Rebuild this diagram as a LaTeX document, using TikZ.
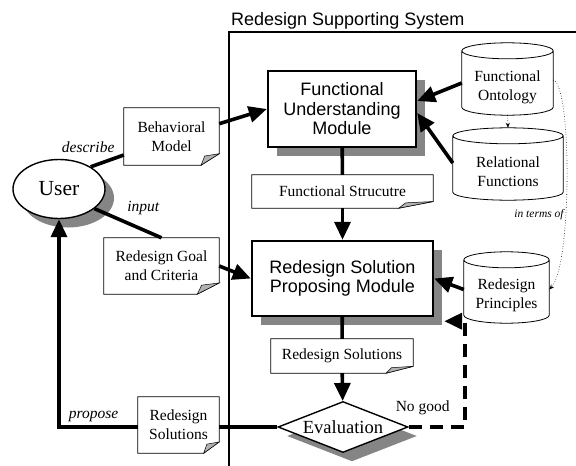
\documentclass[tikz,border=0pt]{standalone}
\usepackage{fontspec}
\setmainfont{Liberation Serif}
\setsansfont{Liberation Sans}
\usetikzlibrary{arrows.meta,shapes.geometric,shadows,calc}

\newcommand{\docsize}{\fontsize{15.5}{19}\selectfont}
\newcommand{\modsize}{\sffamily\fontsize{18}{19.5}\selectfont}

\begin{document}
\begin{tikzpicture}[x=1pt, y=-1pt,
  boxshadow/.style={drop shadow={shadow xshift=9pt, shadow yshift=-9pt, fill=black!48, opacity=1}},
  module/.style={draw, line width=2.4pt, fill=white, font=\modsize, align=center, inner sep=0pt, boxshadow},
  doc/.style={fill=white, font=\docsize, align=center, inner sep=0pt},
  store/.style={font=\docsize, align=center, inner sep=0pt},
  flow/.style={line width=3.6pt},
  bigtip/.style={-{Stealth[length=18pt,width=16pt,inset=0pt]}},
  note/.style={font=\docsize\itshape, inner sep=1pt}]

  \useasboundingbox (0,0) rectangle (576,466);
  \node[anchor=base west, font=\modsize, inner sep=0pt] (title) at (231,25) {Redesign Supporting System};
  \draw[line width=1.2pt] (229,466) |- (576,32);

  \node[module, minimum width=148pt, minimum height=76pt] (fum) at (342,109) {Functional\\Understanding\\Module};
  \node[module, minimum width=181pt, minimum height=75pt] (rspm) at (342.5,278.5) {Redesign Solution\\Proposing Module};
  \node[ellipse, draw, line width=1.4pt, fill=white, minimum width=92pt, minimum height=59pt, inner sep=0pt,
    font=\fontsize{21.5}{24}\selectfont, boxshadow] (user) at (59,189) {User};
  \node[diamond, draw, line width=1.4pt, fill=white, aspect=2.55, minimum width=130pt, minimum height=51pt,
    inner sep=0pt, font=\fontsize{18.5}{20}\selectfont, boxshadow] (eval) at (343,427) {Evaluation};

  \node[doc, minimum width=95pt, minimum height=57pt] (bmodel) at (171.5,136.5) {Behavioral\\Model};
  \node[doc, minimum width=115pt, minimum height=56pt] (goal) at (161.5,266) {Redesign Goal\\and Criteria};
  \node[doc, minimum width=181pt, minimum height=33pt] (fstruct) at (342.5,191.5) {Functional Strucutre};
  \node[doc, minimum width=142pt, minimum height=34pt] (rsolc) at (342,356) {Redesign Solutions};
  \node[doc, minimum width=81pt, minimum height=56pt] (rsoll) at (178.5,425) {Redesign\\Solutions};

  \node[store, minimum width=91pt, minimum height=56pt] (fonto) at (507.5,87) {Functional\\Ontology};
  \node[store, minimum width=110pt, minimum height=56pt] (rfunc) at (508,172) {Relational\\Functions};
  \node[store, minimum width=85pt, minimum height=55pt] (rprin) at (506.5,295.5) {Redesign\\Principles};
  \node[inner sep=0pt, font=\fontsize{11.5}{13}\selectfont\itshape] (terms) at (539,215) {in terms of};

  \foreach \d in {bmodel,goal,fstruct,rsolc,rsoll} {
    \draw[line width=0.7pt] let \p1=(\d.south east), \p2=(\d.north west),
        \n1={0.19*(\x1-\x2)}, \n2={0.2*(\y2-\y1)} in
      (\p2) -- (\x1,\y2) -- (\x1,\y1+\n2) -- (\x1-\n1,\y1) -- (\x2,\y1) -- cycle;
    \filldraw[fill=black!30, line width=0.5pt] let \p1=(\d.south east), \p2=(\d.north west),
        \n1={0.19*(\x1-\x2)}, \n2={0.2*(\y2-\y1)} in
      (\x1,\y1+\n2) -- (\x1-\n1,\y1) -- (\x1-0.8*\n1,\y1+0.8*\n2) -- cycle;
  }
  \foreach \s in {fonto,rfunc,rprin}
    \draw[line width=0.8pt] let \p1=($(\s.east)-(\s.west)$) in
      ([yshift=8pt]\s.north west) -- ([yshift=8pt]\s.south west)
      arc[start angle=180, end angle=360, x radius=0.5*\x1, y radius=8pt]
      -- ([yshift=8pt]\s.north east)
      arc[start angle=0, end angle=360, x radius=0.5*\x1, y radius=8pt];

  \draw[flow] (user.35) -- node[note, pos=0.8, anchor=south east, yshift=2pt] {describe} ([yshift=-18.5pt]bmodel.west);
  \draw[flow, bigtip] (bmodel.15) -- (fum.west);
  \draw[flow] (user.-29) -- node[note, pos=0.45, anchor=south west, yshift=4pt] {input} (goal.north);
  \draw[flow, bigtip] (goal.east) -- (rspm.west);
  \draw[flow, bigtip] ([yshift=4pt]fonto.west) -- ([yshift=8pt]fum.east);
  \draw[flow, bigtip] ([yshift=9pt]rfunc.west) -- ([yshift=-4pt]fum.east);
  \draw[flow, bigtip] ([yshift=6pt]rprin.west) -- (rspm.east);
  \draw[flow] (fum) -- (fstruct);
  \draw[flow, bigtip] (fstruct) -- (rspm);
  \draw[flow] (rspm) -- (rsolc);
  \draw[flow, bigtip] (rsolc) -- (eval);
  \draw[line width=4pt, dash pattern=on 13pt off 8pt, bigtip] (eval.east)
    -- node[pos=0.25, above=10pt, inner sep=0pt, font=\docsize] {No good} ++(56,0)
    |- ([xshift=10pt, yshift=-4pt]rspm.south east);
  \draw[flow] (eval.west) -- (eval.west -| rsoll.east);
  \draw[flow, bigtip] (eval.west -| rsoll.west) -| node[note, pos=0.28, above=2pt] {propose} (user.south);

  \draw[line width=0.6pt, dotted, -{Stealth[length=5pt,width=4pt]}] (fonto.south) -- ([yshift=16pt]rfunc.north);
  \draw[line width=0.6pt, dotted, -{Stealth[length=5pt,width=4pt]}] ([yshift=7pt]fonto.east)
    .. controls (572,84) and (572,266) .. ([yshift=6pt]rprin.east);
\end{tikzpicture}
\end{document}
